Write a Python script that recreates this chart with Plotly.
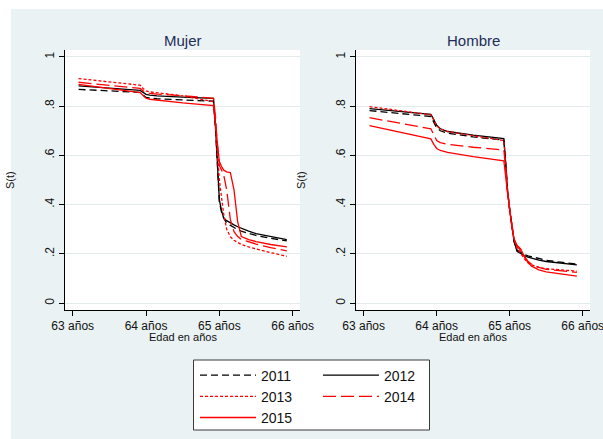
import plotly.graph_objects as go

# ---------------- data ----------------
AGES = [63.08, 63.5, 63.92, 63.96, 64.0, 64.05, 64.15, 64.5, 64.92, 64.95, 64.97,
        65.0, 65.03, 65.06, 65.1, 65.15, 65.2, 65.25, 65.3, 65.4, 65.5, 65.7, 65.92]

YEARS = ["2011", "2012", "2013", "2014", "2015"]

mujer_2011 = [0.868, 0.862, 0.856, 0.845, 0.836, 0.833, 0.830, 0.825, 0.820, 0.70, 0.58,
              0.41, 0.37, 0.345, 0.325, 0.315, 0.305, 0.298, 0.292, 0.283, 0.275, 0.263, 0.253]
mujer_2012 = [0.882, 0.872, 0.864, 0.856, 0.848, 0.845, 0.842, 0.837, 0.832, 0.70, 0.58,
              0.42, 0.375, 0.345, 0.335, 0.325, 0.318, 0.310, 0.303, 0.292, 0.282, 0.270, 0.258]
mujer_2013 = [0.912, 0.897, 0.885, 0.872, 0.862, 0.858, 0.855, 0.842, 0.818, 0.72, 0.62,
              0.50, 0.43, 0.36, 0.30, 0.27, 0.255, 0.245, 0.238, 0.228, 0.220, 0.205, 0.190]
mujer_2014 = [0.897, 0.883, 0.872, 0.862, 0.855, 0.852, 0.849, 0.842, 0.832, 0.75, 0.65,
              0.56, 0.54, 0.52, 0.46, 0.34, 0.29, 0.27, 0.258, 0.248, 0.240, 0.225, 0.212]
mujer_2015 = [0.888, 0.870, 0.855, 0.843, 0.832, 0.828, 0.824, 0.813, 0.802, 0.72, 0.64,
              0.575, 0.555, 0.540, 0.533, 0.530, 0.46, 0.33, 0.27, 0.258, 0.250, 0.238, 0.228]

hombre_2011 = [0.782, 0.770, 0.758, 0.735, 0.712, 0.700, 0.690, 0.675, 0.662, 0.55, 0.46,
               0.38, 0.31, 0.25, 0.215, 0.205, 0.198, 0.192, 0.188, 0.180, 0.174, 0.166, 0.158]
hombre_2012 = [0.790, 0.778, 0.767, 0.745, 0.722, 0.708, 0.697, 0.682, 0.668, 0.55, 0.46,
               0.38, 0.31, 0.25, 0.210, 0.200, 0.193, 0.187, 0.182, 0.175, 0.169, 0.162, 0.155]
hombre_2013 = [0.798, 0.780, 0.765, 0.745, 0.720, 0.708, 0.697, 0.680, 0.660, 0.55, 0.46,
               0.38, 0.31, 0.26, 0.225, 0.200, 0.180, 0.165, 0.155, 0.145, 0.140, 0.135, 0.130]
hombre_2014 = [0.753, 0.730, 0.708, 0.685, 0.660, 0.652, 0.645, 0.633, 0.622, 0.53, 0.45,
               0.38, 0.31, 0.26, 0.230, 0.215, 0.190, 0.170, 0.158, 0.145, 0.137, 0.130, 0.125]
hombre_2015 = [0.721, 0.695, 0.667, 0.645, 0.628, 0.620, 0.612, 0.595, 0.578, 0.50, 0.44,
               0.38, 0.31, 0.26, 0.235, 0.220, 0.190, 0.165, 0.150, 0.135, 0.127, 0.118, 0.110]

X_TICKS = [63, 64, 65, 66]
X_TICK_LABELS = ["63 años", "64 años", "65 años", "66 años"]
Y_TICKS = [0, 0.2, 0.4, 0.6, 0.8, 1]
Y_TICK_LABELS = ["0", ".2", ".4", ".6", ".8", "1"]
PANEL_TITLES = ["Mujer", "Hombre"]

# ---------------- styles ----------------
COLORS = {"2011": "#000000", "2012": "#000000", "2013": "#FF0000",
          "2014": "#FF0000", "2015": "#FF0000"}
DASHES = {"2011": "7px,4px", "2012": "solid", "2013": "3px,2px",
          "2014": "13px,5px", "2015": "solid"}
LEGEND_OF = {"2011": "legend", "2013": "legend", "2015": "legend",
             "2012": "legend2", "2014": "legend2"}

W, H = 603, 439
FONT = "Liberation Sans, Arial, sans-serif"
BG = "#EAF2F3"
GRID = "#E2EAEC"


def px(x):
    return x / W


def py(y):
    return (H - y) / H


panels = [
    ("x", "y", [mujer_2011, mujer_2012, mujer_2013, mujer_2014, mujer_2015]),
    ("x2", "y2", [hombre_2011, hombre_2012, hombre_2013, hombre_2014, hombre_2015]),
]

fig = go.Figure()
for pi, (xa, ya, series) in enumerate(panels):
    for year, vals in zip(YEARS, series):
        fig.add_trace(go.Scatter(
            x=AGES, y=vals, mode="lines", name=year,
            xaxis=xa, yaxis=ya,
            line=dict(color=COLORS[year], width=1.3, dash=DASHES[year]),
            showlegend=(pi == 0), legend=LEGEND_OF[year],
            hoverinfo="skip",
        ))

x_domains = [[px(65), px(300)], [px(356), px(590)]]
y_domain = [py(310), py(50)]

axis_common_x = dict(
    range=[62.895, 66.10], tickvals=X_TICKS, ticktext=X_TICK_LABELS,
    ticks="outside", ticklen=5, tickwidth=1, tickcolor="black",
    showline=True, linecolor="black", linewidth=1, mirror=False,
    showgrid=False, zeroline=False, automargin=False,
    ticklabeloverflow="allow",
    tickfont=dict(family=FONT, size=12, color="#111111"),
    fixedrange=True,
)
axis_common_y = dict(
    range=[-0.028, 1.028], tickvals=Y_TICKS, ticktext=Y_TICK_LABELS,
    tickangle=-90, ticks="outside", ticklen=5, tickwidth=1, tickcolor="black",
    showline=True, linecolor="black", linewidth=1, automargin=False,
    ticklabeloverflow="allow",
    showgrid=True, gridcolor=GRID, gridwidth=1, zeroline=False,
    tickfont=dict(family=FONT, size=12, color="#111111"),
    fixedrange=True,
)

annotations = []
for i, title in enumerate(PANEL_TITLES):
    cx = (x_domains[i][0] + x_domains[i][1]) / 2
    annotations.append(dict(text=title, x=cx, y=py(40.5), xref="paper", yref="paper",
                            showarrow=False, xanchor="center", yanchor="middle",
                            font=dict(family=FONT, size=15, color="#1E2D59")))
    annotations.append(dict(text="Edad en años", x=cx, y=py(337), xref="paper", yref="paper",
                            showarrow=False, xanchor="center", yanchor="middle",
                            font=dict(family=FONT, size=11, color="#111111")))
annotations.append(dict(text="S(t)", x=px(10), y=py(180), xref="paper", yref="paper",
                        showarrow=False, textangle=-90, xanchor="center", yanchor="middle",
                        font=dict(family=FONT, size=11, color="#111111")))
annotations.append(dict(text="S(t)", x=px(301), y=py(180), xref="paper", yref="paper",
                        showarrow=False, textangle=-90, xanchor="center", yanchor="middle",
                        font=dict(family=FONT, size=11, color="#111111")))

shapes = [
    dict(type="rect", xref="paper", yref="paper", x0=0, x1=px(11), y0=0, y1=1,
         fillcolor="white", line=dict(width=0), layer="below"),
    dict(type="rect", xref="paper", yref="paper", x0=0, x1=1, y0=py(9), y1=1,
         fillcolor="white", line=dict(width=0), layer="below"),
    dict(type="rect", xref="paper", yref="paper", x0=px(193.5), x1=px(429.5),
         y0=py(430), y1=py(360), fillcolor="white",
         line=dict(color="#3a3a3a", width=1), layer="below"),
]

legend_common = dict(
    orientation="v", bgcolor="rgba(0,0,0,0)", borderwidth=0,
    font=dict(family=FONT, size=14, color="#111111"),
    itemwidth=56, xanchor="left", yanchor="top", traceorder="normal",
    itemclick=False, itemdoubleclick=False, tracegroupgap=0,
)

fig.update_layout(
    width=W, height=H,
    margin=dict(l=0, r=0, t=0, b=0, pad=0, autoexpand=False),
    paper_bgcolor=BG, plot_bgcolor="white",
    font=dict(family=FONT),
    xaxis=dict(domain=x_domains[0], anchor="y", **axis_common_x),
    yaxis=dict(domain=y_domain, anchor="x", **axis_common_y),
    xaxis2=dict(domain=x_domains[1], anchor="y2", **axis_common_x),
    yaxis2=dict(domain=y_domain, anchor="x2", **axis_common_y),
    legend=dict(x=px(195), y=py(359.5), **legend_common),
    legend2=dict(x=px(318), y=py(359.5), **legend_common),
    annotations=annotations,
    shapes=shapes,
    showlegend=True,
)

fig.write_html(
    "out.html",
    config={"displayModeBar": False, "responsive": False},
    post_script="document.body.style.margin='0';document.body.style.overflow='hidden';"
                "document.documentElement.style.overflow='hidden';",
)
